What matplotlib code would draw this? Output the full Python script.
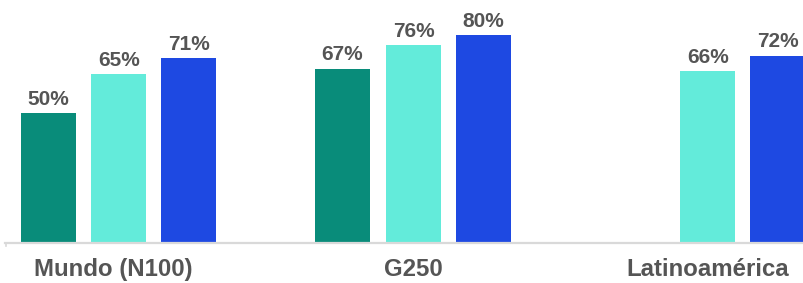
import numpy as np
import matplotlib
matplotlib.use("Agg")
import matplotlib.pyplot as plt
import matplotlib.transforms as mtransforms

categories = ["Mundo (N100)", "G250", "Latinoamérica"]
serie1 = [50, 67, None]
serie2 = [65, 76, 66]
serie3 = [71, 80, 72]

colores = ["#098C7A", "#63EBDA", "#1E49E2"]
series = [serie1, serie2, serie3]

plt.rcParams["font.family"] = ["Liberation Sans", "DejaVu Sans"]

fig = plt.figure(figsize=(8.04, 2.83), dpi=100)
W, H = 804.0, 283.0
ax = fig.add_axes([5 / W, (H - 243) / H, (804 - 5) / W, 243 / H])

x = np.arange(len(categories))
ancho = 55 / 294.5
offsets = [-71 / 294.5, 0, 70 / 294.5]

for vals, col, off in zip(series, colores, offsets):
    for i, v in enumerate(vals):
        if v is None:
            continue
        ax.bar(x[i] + off, v, width=ancho, color=col)
        ax.annotate("%d%%" % v, (x[i] + off, v), xytext=(0, 6),
                    textcoords="offset points", ha="center", va="baseline",
                    fontsize=15, fontweight="bold", color="#555555")

ax.set_xlim((5 - 119) / 294.5, (804 - 119) / 294.5)
ax.set_ylim(0, 243 / 2.6)

for s in ["top", "right", "left"]:
    ax.spines[s].set_visible(False)
ax.spines["bottom"].set_color("#d9d9d9")
ax.spines["bottom"].set_linewidth(1.6)
ax.plot([0.001, 0.001], [0, -0.014], transform=ax.transAxes, color="#d9d9d9",
        lw=1.2, clip_on=False)
ax.set_yticks([])
ax.set_xticks(x)
ax.set_xticklabels(categories, fontsize=17.3, fontweight="bold", color="#555555")
ax.tick_params(axis="x", length=0, pad=11)

# la primera etiqueta esta algo corrida a la izquierda en el original
lbl = ax.get_xticklabels()[0]
lbl.set_transform(lbl.get_transform() +
                  mtransforms.ScaledTranslation(-6 / 100, 0, fig.dpi_scale_trans))

fig.savefig("out.png", dpi=100)
